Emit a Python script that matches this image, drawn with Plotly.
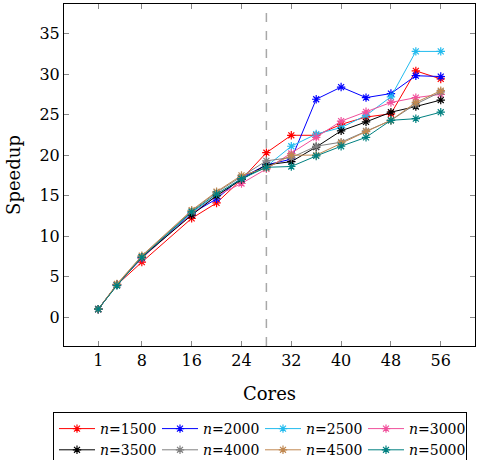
import plotly.graph_objects as go

cores = [1, 4, 8, 16, 20, 24, 28, 32, 36, 40, 44, 48, 52, 56]

names = ["1500", "2000", "2500", "3000", "3500", "4000", "4500", "5000"]
colors = ["#ff0000", "#0000ff", "#22bbee", "#f0509b", "#000000", "#808080", "#c08850", "#008080"]

s1500 = [1, 4.0, 6.8, 12.2, 14.1, 17.0, 20.3, 22.45, 22.45, 23.8, 24.7, 25.1, 30.4, 29.4]
s2000 = [1, 4.0, 7.3, 12.8, 14.6, 17.2, 18.8, 19.5, 26.9, 28.4, 27.1, 27.6, 29.8, 29.7]
s2500 = [1, 4.0, 7.4, 12.9, 15.0, 17.0, 18.6, 21.1, 22.6, 23.4, 24.9, 27.2, 32.8, 32.8]
s3000 = [1, 4.0, 7.3, 12.7, 15.0, 16.5, 18.3, 20.2, 22.2, 24.2, 25.35, 26.5, 27.1, 27.5]
s3500 = [1, 4.0, 7.4, 12.6, 15.0, 17.0, 18.8, 19.2, 21.0, 23.0, 24.1, 25.3, 26.0, 26.8]
s4000 = [1, 4.0, 7.5, 13.1, 15.4, 17.3, 19.3, 19.7, 21.1, 21.6, 23.0, 24.3, 26.3, 27.8]
s4500 = [1, 4.1, 7.6, 13.2, 15.5, 17.5, 18.4, 20.0, 20.0, 21.5, 22.9, 24.3, 26.5, 27.95]
s5000 = [1, 3.9, 7.4, 13.0, 15.2, 17.1, 18.5, 18.6, 19.9, 21.1, 22.2, 24.3, 24.5, 25.3]
series = [s1500, s2000, s2500, s3000, s3500, s4000, s4500, s5000]

x_ticks = [1, 8, 16, 24, 32, 40, 48, 56]
y_ticks = [0, 5, 10, 15, 20, 25, 30, 35]
marker_x = 28

FONT = "DejaVu Serif"

fig = go.Figure()
for name, col, ys in zip(names, colors, series):
    fig.add_trace(go.Scatter(
        x=cores, y=ys, mode="lines+markers",
        name=f"<i>n</i>={name}",
        line=dict(color=col, width=1),
        marker=dict(symbol="asterisk-open", size=7, color=col,
                    line=dict(color=col, width=1.2)),
    ))

fig.add_shape(type="line", xref="x", yref="paper", x0=marker_x, x1=marker_x,
              y0=0, y1=1, line=dict(color="#a8a8a8", width=1.5, dash="dash"),
              layer="below")

axis_common = dict(
    showgrid=False, zeroline=False, showline=True, linecolor="black",
    linewidth=1, mirror="ticks", ticks="inside", ticklen=5, tickcolor="#888888",
    tickfont=dict(family=FONT, size=16, color="black"),
)

fig.update_xaxes(range=[-4.5, 61.5], tickvals=x_ticks,
                 title=dict(text="Cores", font=dict(family=FONT, size=18, color="black"),
                            standoff=18),
                 **axis_common)
fig.update_yaxes(range=[-3.55, 38.65], tickvals=y_ticks,
                 title=dict(text="Speedup", font=dict(family=FONT, size=18, color="black"),
                            standoff=14),
                 **axis_common)

fig.update_layout(
    width=480, height=460,
    margin=dict(l=64, r=5, t=4, b=114, autoexpand=False),
    plot_bgcolor="white", paper_bgcolor="white",
    font=dict(family=FONT, color="black"),
    legend=dict(
        orientation="h", xref="container", yref="container",
        x=53 / 480, xanchor="left", y=1 - 412 / 460, yanchor="top",
        bordercolor="black", borderwidth=1, bgcolor="white",
        font=dict(family=FONT, size=14, color="black"),
        entrywidth=52, entrywidthmode="pixels", itemwidth=36,
        tracegroupgap=0,
    ),
)

fig.write_html("out.html")
